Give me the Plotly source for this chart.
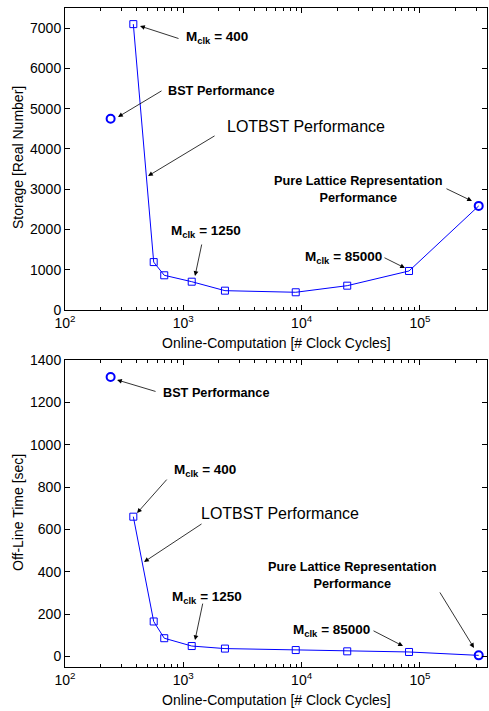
import plotly.graph_objects as go

# ---- data ----
lot_x = [378, 562, 690, 1178, 2249, 8920, 24300, 80900, 314000]
lot_storage = [7100, 1190, 862, 703, 480, 440, 604, 969, 2585]
lot_offline = [660, 165, 86, 49, 37, 30, 24, 21, 5]
bst_x = [243]
bst_storage = [4750]
bst_offline = [1320]
xtick_vals = [100, 1000, 10000, 100000]
xtick_text = ["10<sup>2</sup>", "10<sup>3</sup>", "10<sup>4</sup>", "10<sup>5</sup>"]
storage_ticks = [0, 1000, 2000, 3000, 4000, 5000, 6000, 7000]
offline_ticks = [0, 200, 400, 600, 800, 1000, 1200, 1400]

W, H = 489, 711
BLUE = "rgb(0,0,255)"
FONT = "Liberation Sans, Arial, sans-serif"

fig = go.Figure()

def add_panel(yvals, bstvals, xa, ya):
    n = len(lot_x)
    fig.add_trace(go.Scatter(x=lot_x, y=yvals, mode="lines",
                             line=dict(color=BLUE, width=1), xaxis=xa, yaxis=ya,
                             showlegend=False, hoverinfo="skip"))
    fig.add_trace(go.Scatter(x=lot_x[:n - 1], y=yvals[:n - 1], mode="markers",
                             marker=dict(symbol="square-open", size=7, color=BLUE,
                                         line=dict(width=1, color=BLUE)),
                             xaxis=xa, yaxis=ya, showlegend=False))
    fig.add_trace(go.Scatter(x=bst_x + lot_x[n - 1:], y=bstvals + yvals[n - 1:], mode="markers",
                             marker=dict(symbol="circle-open", size=8, color=BLUE,
                                         line=dict(width=2, color=BLUE)),
                             xaxis=xa, yaxis=ya, showlegend=False, cliponaxis=False))

add_panel(lot_storage, bst_storage, "x", "y")
add_panel(lot_offline, bst_offline, "x2", "y2")

minor_vals = [m * 10 ** e for e in range(2, 6) for m in range(2, 10)]

xcommon = dict(type="log", range=[2, 5.567], tickvals=xtick_vals, ticktext=xtick_text,
               ticks="inside", ticklen=5, tickcolor="black", showline=True, linecolor="black",
               linewidth=1, mirror="ticks", showgrid=False, zeroline=False, automargin=False,
               tickfont=dict(family=FONT, size=14, color="black"),
               minor=dict(tickvals=minor_vals, ticks="inside", ticklen=3, tickcolor="black"))
ycommon = dict(ticks="inside", ticklen=5, tickcolor="black", showline=True, linecolor="black",
               linewidth=1, mirror="ticks", showgrid=False, zeroline=False, automargin=False,
               tickfont=dict(family=FONT, size=14, color="black"))

xl, xr = 65 / W, 487 / W
fig.update_layout(
    width=W, height=H, margin=dict(l=0, r=0, t=0, b=0, autoexpand=False),
    paper_bgcolor="white", plot_bgcolor="white",
    xaxis=dict(domain=[xl, xr], anchor="y", **xcommon),
    xaxis2=dict(domain=[xl, xr], anchor="y2", **xcommon),
    yaxis=dict(domain=[1 - 310 / H, 1 - 8 / H], anchor="x", range=[0, 7500],
               tickvals=storage_ticks, **ycommon),
    yaxis2=dict(domain=[1 - 667 / H, 1 - 360 / H], anchor="x2", range=[-50, 1400],
                tickvals=offline_ticks, **ycommon),
)

def title(x, y, text, angle=0):
    fig.add_annotation(xref="paper", yref="paper", x=x / W, y=1 - y / H, text=text,
                       showarrow=False, textangle=angle, xanchor="center", yanchor="middle",
                       font=dict(family=FONT, size=14, color="black"))

title(18, 158, "Storage [Real Number]", -90)
title(18, 513, "Off-Line Time [sec]", -90)
title(276, 343, "Online-Computation [# Clock Cycles]")
title(276, 700, "Online-Computation [# Clock Cycles]")

def arrow(xref, yref, x, y, ax, ay):
    fig.add_annotation(xref=xref, yref=yref, x=x, y=y, ax=ax, ay=ay, text="",
                       showarrow=True, arrowhead=2, arrowsize=1.2, arrowwidth=0.8,
                       arrowcolor="black", standoff=0, startstandoff=0)

def label(xref, yref, x, y, text, size=12.7, bold=True, xanchor="left", align="left"):
    t = "<b>%s</b>" % text if bold else text
    fig.add_annotation(xref=xref, yref=yref, x=x, y=y, text=t, showarrow=False,
                       xanchor=xanchor, yanchor="middle", align=align,
                       font=dict(family=FONT, size=size, color="black"))

MCLK = "M<sub>clk</sub> = %s"
MS = 13.5
LS = 16

# top panel
arrow("x", "y", 2.634, 7053, 40, 13)
arrow("x", "y", 2.448, 4793, 45, -27)
arrow("x", "y", 2.702, 3328, 68, -41)
arrow("x", "y", 3.099, 844, 7, -33)
arrow("x", "y", 5.440, 2707, -27, -13)
arrow("x", "y", 4.874, 1043, -22, -11)
label("x", "y", 3.006, 6760, MCLK % "400", size=MS)
label("x", "y", 2.854, 5438, "BST Performance")
label("x", "y", 3.352, 4569, "LOTBST Performance", size=LS, bold=False)
label("x", "y", 2.879, 1950, MCLK % "1250", size=MS)
label("x", "y", 4.485, 3005, "Pure Lattice Representation<br>Performance", xanchor="center", align="center")
label("x", "y", 4.012, 1300, MCLK % "85000", size=MS)

# bottom panel
arrow("x2", "y2", 2.440, 1306, 40, 12)
arrow("x2", "y2", 2.609, 677, 31, -35)
arrow("x2", "y2", 2.668, 446, 59, -39)
arrow("x2", "y2", 3.099, 77, 8, -38)
arrow("x2", "y2", 5.457, 40, -35, -57)
arrow("x2", "y2", 4.857, 49, -31, -16)
label("x2", "y2", 2.811, 1244, "BST Performance")
label("x2", "y2", 2.904, 880, MCLK % "400", size=MS)
label("x2", "y2", 3.133, 673, "LOTBST Performance", size=LS, bold=False)
label("x2", "y2", 2.888, 280, MCLK % "1250", size=MS)
label("x2", "y2", 4.426, 380, "Pure Lattice Representation<br>Performance", xanchor="center", align="center")
label("x2", "y2", 3.910, 124, MCLK % "85000", size=MS)

fig.write_html("out.html", config={"displayModeBar": False},
               post_script="document.body.style.margin='0';document.body.style.overflow='hidden';")
